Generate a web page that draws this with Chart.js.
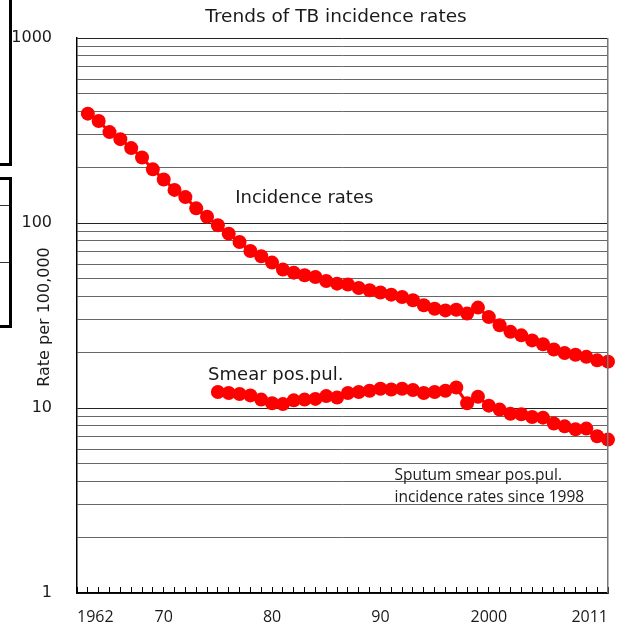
<!DOCTYPE html>
<html>
<head>
<meta charset="utf-8">
<title>Trends of TB incidence rates</title>
<script src="https://cdn.jsdelivr.net/npm/chart.js@4.4.1/dist/chart.umd.min.js"></script>
<style>
  html, body { margin: 0; padding: 0; background: #fff; overflow: hidden; }
  #wrap { position: relative; width: 618px; height: 630px; }
  #wrap canvas { position: absolute; left: 0; top: 0; }
  .box { position: absolute; left: -10px; width: 22px; box-sizing: border-box; border: 3px solid #000; z-index: 2; }
  .rule { position: absolute; left: 0; width: 9px; height: 1px; background: #333; z-index: 2; }
</style>
</head>
<body>
<div id="wrap">
  <canvas id="tbChart" width="618" height="630"></canvas>
  <div class="box" style="top:-10px;height:176px"></div>
  <div class="box" style="top:177px;height:151px"></div>
  <div class="rule" style="top:205px"></div>
  <div class="rule" style="top:262px"></div>
</div>
<script>
// years with a point (incidence rates per 100,000)
const years = [1963, 1964, 1965, 1966, 1967, 1968, 1969, 1970, 1971, 1972,
  1973, 1974, 1975, 1976, 1977, 1978, 1979, 1980, 1981, 1982,
  1983, 1984, 1985, 1986, 1987, 1988, 1989, 1990, 1991, 1992,
  1993, 1994, 1995, 1996, 1997, 1998, 1999, 2000, 2001, 2002,
  2003, 2004, 2005, 2006, 2007, 2008, 2009, 2010, 2011];
const incidence = [390, 356, 310, 284, 254, 226, 195, 172, 151, 138,
  120, 108, 97.2, 87.6, 78.9, 70.6, 66.1, 61.1, 56.0, 53.9,
  52.2, 51.1, 48.6, 47.0, 46.5, 44.5, 43.3, 42.1, 41.0, 39.8,
  38.2, 35.9, 34.4, 33.7, 34.0, 32.4, 34.9, 31.0, 28.0, 25.8,
  24.7, 23.2, 22.1, 20.7, 19.8, 19.4, 18.9, 18.1, 17.8];

// smear positive pulmonary TB
const smearYears = [1975, 1976, 1977, 1978, 1979, 1980, 1981, 1982, 1983, 1984,
  1985, 1986, 1987, 1988, 1989, 1990, 1991, 1992, 1993, 1994,
  1995, 1996, 1997, 1998, 1999, 2000, 2001, 2002, 2003, 2004,
  2005, 2006, 2007, 2008, 2009, 2010, 2011];
const smearPos = [12.2, 12.05, 11.9, 11.7, 11.1, 10.6, 10.5, 11.0, 11.1, 11.2,
  11.6, 11.4, 12.05, 12.2, 12.4, 12.7, 12.6, 12.7, 12.5, 12.05,
  12.2, 12.4, 12.9, 10.6, 11.5, 10.3, 9.8, 9.3, 9.25, 8.94,
  8.87, 8.24, 7.96, 7.67, 7.74, 7.03, 6.75];

// x axis: a tick for every year, a label on a few of them
const axisYears = [1962, 1963, 1964, 1965, 1966, 1967, 1968, 1969, 1970, 1971,
  1972, 1973, 1974, 1975, 1976, 1977, 1978, 1979, 1980, 1981,
  1982, 1983, 1984, 1985, 1986, 1987, 1988, 1989, 1990, 1991,
  1992, 1993, 1994, 1995, 1996, 1997, 1998, 1999, 2000, 2001,
  2002, 2003, 2004, 2005, 2006, 2007, 2008, 2009, 2010, 2011];
const xTickYears = [1962, 1970, 1980, 1990, 2000, 2011];
const xTickText = ["1962", "70", "80", "90", "2000", "2011"];
const yLabelValues = [1, 10, 100, 1000];
const yGridValues = [1, 2, 3, 4, 5, 6, 7, 8, 9,
  10, 20, 30, 40, 50, 60, 70, 80, 90,
  100, 200, 300, 400, 500, 600, 700, 800, 900, 1000];

// text put inside the plot, anchored on year / rate
const notes = [
  { text: "Incidence rates", year: 1976.6, rate: 136, font: '18px "DejaVu Sans"' },
  { text: "Smear pos.pul.", year: 1974.1, rate: 15.0, font: '18px "DejaVu Sans"' },
  { text: "Sputum smear pos.pul.", year: 1991.3, rate: 4.33, font: '15.5px "Open Sans"' },
  { text: "incidence rates since 1998", year: 1991.3, rate: 3.29, font: '15.5px "Open Sans"' },
];

const textColor = "#1a1a1a";

const extras = {
  id: "extras",
  afterDatasetsDraw(chart) {
    const { ctx, chartArea: a } = chart;
    ctx.save();
    ctx.fillStyle = "#777";
    ctx.fillRect(Math.round(a.right) - 1, a.top, 1.5, a.bottom - a.top);
    ctx.restore();
  },
  afterDraw(chart) {
    const { ctx, scales } = chart;
    ctx.save();
    ctx.fillStyle = textColor;
    ctx.textBaseline = "middle";

    ctx.textAlign = "center";
    ctx.font = '18.5px "DejaVu Sans"';
    ctx.fillText("Trends of TB incidence rates", 336, 17);

    ctx.save();
    ctx.translate(45, 317);
    ctx.rotate(-Math.PI / 2);
    ctx.font = '16px "DejaVu Sans"';
    ctx.fillText("Rate per 100,000", 0, 0);
    ctx.restore();

    ctx.textAlign = "left";
    notes.forEach((n) => {
      ctx.font = n.font;
      ctx.fillText(n.text, scales.x.getPixelForValue(n.year), scales.y.getPixelForValue(n.rate));
    });
    ctx.restore();
  },
};

const ctx = document.getElementById("tbChart").getContext("2d");

const tbChart = new Chart(ctx, {
  type: "line",
  data: {
    datasets: [
      {
        label: "Incidence rates",
        data: years.map((yr, i) => ({ x: yr, y: incidence[i] })),
        borderColor: "#ff0000",
        backgroundColor: "#ff0000",
        borderWidth: 3,
        pointRadius: 7,
        pointBorderWidth: 0,
        clip: false,
      },
      {
        label: "Smear pos.pul.",
        data: smearYears.map((yr, i) => ({ x: yr, y: smearPos[i] })),
        borderColor: "#ff0000",
        backgroundColor: "#ff0000",
        borderWidth: 3,
        pointRadius: 7,
        pointBorderWidth: 0,
        clip: false,
      },
    ],
  },
  options: {
    responsive: false,
    animation: false,
    layout: { padding: { top: 38, right: 10, left: 0, bottom: 0 } },
    plugins: {
      legend: { display: false },
      tooltip: { enabled: false },
    },
    scales: {
      x: {
        type: "linear",
        min: 1962,
        max: 2011,
        afterBuildTicks: (scale) => {
          scale.ticks = axisYears.map((v) => ({ value: v }));
        },
        afterFit: (scale) => {
          scale.height = 37;
          scale.paddingLeft = 0;
          scale.paddingRight = 0;
        },
        ticks: {
          autoSkip: false,
          maxRotation: 0,
          align: "inner",
          padding: 21,
          color: textColor,
          font: { family: '"Open Sans"', size: 16 },
          callback: (v) => {
            const i = xTickYears.indexOf(v);
            return i >= 0 ? xTickText[i] : "";
          },
        },
        grid: {
          display: true,
          drawOnChartArea: false,
          drawTicks: true,
          tickLength: -6,
          color: "#000",
          lineWidth: 1,
        },
        border: { display: true, color: "#000", width: 1.5 },
      },
      y: {
        type: "logarithmic",
        min: 1,
        max: 1000,
        afterBuildTicks: (scale) => {
          scale.ticks = yGridValues.map((v) => ({ value: v }));
        },
        afterFit: (scale) => {
          scale.width = 77;
        },
        ticks: {
          autoSkip: false,
          padding: 25,
          color: textColor,
          font: { family: '"DejaVu Sans"', size: 16 },
          callback: (v) => (yLabelValues.includes(v) ? String(v) : ""),
        },
        grid: {
          drawTicks: false,
          lineWidth: 1,
          color: (c) => (c.tick && yLabelValues.includes(c.tick.value) ? "#222" : "#666"),
        },
        border: { color: "#000", width: 1.5 },
      },
    },
  },
  plugins: [extras],
});
</script>
</body>
</html>
